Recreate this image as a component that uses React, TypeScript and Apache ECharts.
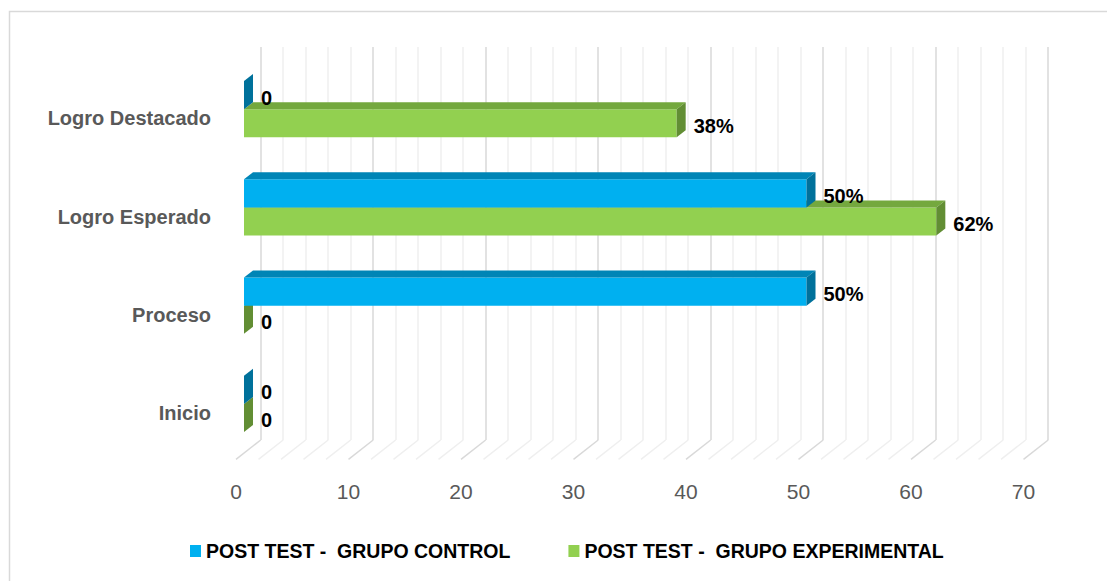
import React, { useEffect, useRef } from "react";
import * as echarts from "echarts";

// ---- data ----
const categories = ["Inicio", "Proceso", "Logro Esperado", "Logro Destacado"];
const controlValues = [0, 50, 50, 0];
const experimentalValues = [0, 0, 61.54, 38.46];
const seriesNames = ["POST TEST -  GRUPO CONTROL", "POST TEST -  GRUPO EXPERIMENTAL"];
const xMin = 0;
const xMax = 70;
const xMajorStep = 10;
const xMinorStep = 2;

// ---- styling / geometry (not data) ----
const FONT = '"Liberation Sans", Arial, sans-serif';
const DEPTH_X = 24.7; // floor depth offset
const DEPTH_Y = 19.3;
const BAR_DX = 9; // bar depth
const BAR_DY = 7;
const FRONT_SHIFT_X = 16.7; // bar front face offset from back wall
const FRONT_SHIFT_Y = 13;

const blue = { front: "#00B0F0", top: "#0085B6", side: "#00719B" };
const green = { front: "#92D050", top: "#74A83E", side: "#628E34" };

const fmt = (v: number) => (v === 0 ? "0" : Math.round(v) + "%");

function barSeries(name: string, values: number[], c: any, idx: number, z: number) {
  return {
    type: "custom",
    name,
    xAxisIndex: 0,
    yAxisIndex: 0,
    z,
    itemStyle: { color: c.front },
    encode: { x: 0, y: 1 },
    data: values.map((v, i) => [v, i]),
    renderItem: (params: any, api: any) => {
      const v = api.value(0);
      const cat = api.value(1);
      const pEnd = api.coord([v, cat]);
      const p0 = api.coord([0, cat]);
      const band = api.size([0, 1])[1];
      const h = band * 0.285;
      const x0 = p0[0] - FRONT_SHIFT_X;
      const x1 = pEnd[0] - FRONT_SHIFT_X;
      const yTop = pEnd[1] + FRONT_SHIFT_Y - h + idx * h;
      const yBot = yTop + h;
      const children: any[] = [];
      if (x1 > x0) {
        children.push({
          type: "rect",
          shape: { x: x0, y: yTop, width: x1 - x0, height: h },
          style: { fill: c.front },
        });
        children.push({
          type: "polygon",
          shape: {
            points: [
              [x0, yTop],
              [x1, yTop],
              [x1 + BAR_DX, yTop - BAR_DY],
              [x0 + BAR_DX, yTop - BAR_DY],
            ],
          },
          style: { fill: c.top },
        });
      }
      children.push({
        type: "polygon",
        shape: {
          points: [
            [x1, yTop],
            [x1 + BAR_DX, yTop - BAR_DY],
            [x1 + BAR_DX, yBot - BAR_DY],
            [x1, yBot],
          ],
        },
        style: { fill: c.side },
      });
      children.push({
        type: "text",
        style: {
          text: fmt(v),
          x: x1 + BAR_DX + 8,
          y: yTop + h / 2 + 2.5,
          fill: "#000000",
          fontFamily: FONT,
          fontWeight: "bold",
          fontSize: 20,
          align: "left",
          verticalAlign: "middle",
        },
      });
      return { type: "group", children };
    },
  };
}

export default function App() {
  const ref = useRef<HTMLDivElement>(null);
  useEffect(() => {
    if (!ref.current) return;
    const chart = echarts.init(ref.current, undefined, { renderer: "svg" });
    const gridTicks: number[] = [];
    for (let t = xMin; t <= xMax; t += xMinorStep) gridTicks.push(t);

    const option: any = {
      animation: false,
      backgroundColor: "#ffffff",
      textStyle: { fontFamily: FONT },
      graphic: [
        {
          type: "rect",
          silent: true,
          z: -10,
          shape: { x: 9.5, y: 11.5, width: 1130, height: 600 },
          style: { fill: "none", stroke: "#D9D9D9", lineWidth: 1.5 },
        },
      ],
      legend: {
        data: seriesNames,
        left: 185,
        top: 536,
        icon: "rect",
        itemWidth: 11,
        itemHeight: 12,
        itemGap: 58,
        textStyle: {
          fontFamily: FONT,
          fontWeight: "bold",
          fontSize: 19.5,
          color: "#000000",
        },
      },
      grid: [
        { left: 260.7, top: 47, right: 58.8, bottom: 141 },
        { left: 236, top: 69.3, right: 83.5, bottom: 118.7 },
      ],
      xAxis: [
        {
          gridIndex: 0,
          type: "value",
          min: xMin,
          max: xMax,
          interval: xMinorStep,
          axisLabel: { show: false },
          axisLine: { show: false },
          axisTick: { show: false },
          splitLine: {
            show: true,
            lineStyle: {
              color: ["#D9D9D9", "#EFEFEF", "#EFEFEF", "#EFEFEF", "#EFEFEF"],
              width: 1.5,
            },
          },
        },
        {
          gridIndex: 1,
          type: "value",
          min: xMin,
          max: xMax,
          interval: xMajorStep,
          axisLine: { show: false },
          axisTick: { show: false },
          splitLine: { show: false },
          axisLabel: {
            margin: 19,
            fontSize: 21,
            color: "#595959",
            fontFamily: FONT,
          },
        },
      ],
      yAxis: [
        {
          gridIndex: 0,
          type: "category",
          data: categories,
          axisLabel: { show: false },
          axisLine: { show: false },
          axisTick: { show: false },
          splitLine: { show: false },
        },
        {
          gridIndex: 1,
          type: "category",
          data: categories,
          axisLine: { show: false },
          axisTick: { show: false },
          splitLine: { show: false },
          axisLabel: {
            margin: 25,
            fontSize: 20,
            fontWeight: "bold",
            color: "#595959",
            fontFamily: FONT,
          },
        },
      ],
      series: [
        {
          type: "custom",
          name: "floor",
          silent: true,
          xAxisIndex: 0,
          yAxisIndex: 0,
          z: 1,
          encode: { x: 0, y: 1 },
          data: gridTicks.map((t) => [t, 0]),
          renderItem: (params: any, api: any) => {
            const t = api.value(0);
            const p = api.coord([t, 0]);
            const bottom = params.coordSys.y + params.coordSys.height;
            const major = Math.abs(t % xMajorStep) < 1e-9;
            return {
              type: "line",
              shape: { x1: p[0], y1: bottom, x2: p[0] - DEPTH_X, y2: bottom + DEPTH_Y },
              style: { stroke: major ? "#D9D9D9" : "#EFEFEF", lineWidth: 1.5 },
            };
          },
        },
        barSeries(seriesNames[1], experimentalValues, green, 1, 3),
        barSeries(seriesNames[0], controlValues, blue, 0, 4),
      ],
    };
    chart.setOption(option);
    return () => chart.dispose();
  }, []);
  return (
    <div
      ref={ref}
      style={{
        position: "fixed",
        left: 0,
        top: 0,
        width: "1107px",
        height: "581px",
        background: "#ffffff",
      }}
    />
  );
}
